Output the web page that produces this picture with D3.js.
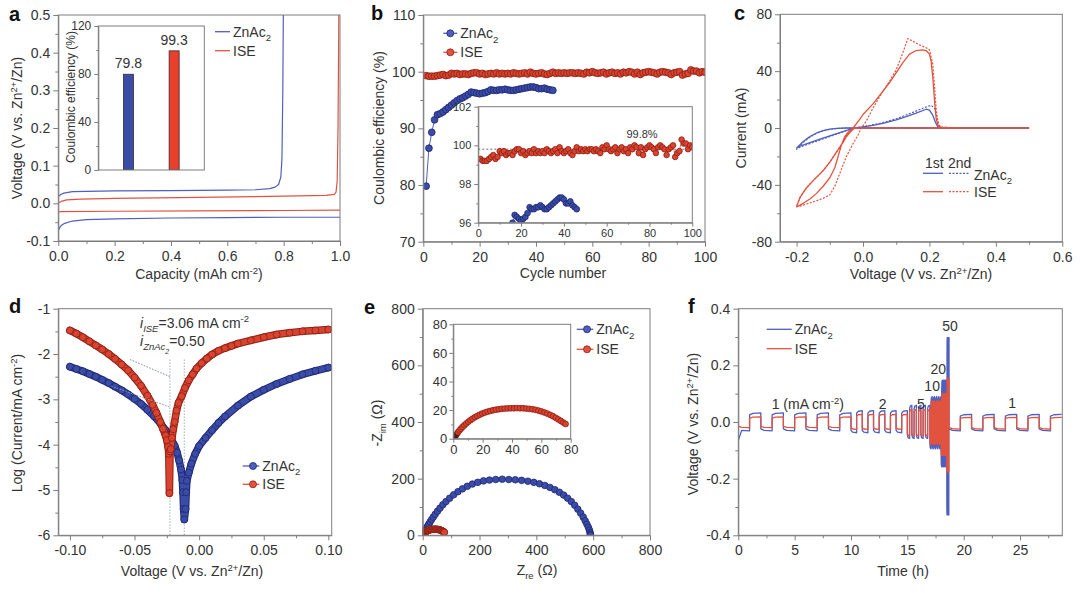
<!DOCTYPE html>
<html><head><meta charset="utf-8">
<script src="https://cdn.jsdelivr.net/npm/d3@7"></script>
<style>body{margin:0;background:#fff}svg{display:block}</style>
</head><body><svg id="chart" width="1080" height="593"></svg>
<script>
// ================= DATA =================
// (a) voltage profiles [capacity, voltage]
const aZnStrip = [[0,0.018],[0.01,0.024],[0.02,0.027],[0.05,0.031],[0.1,0.032],[0.2,0.033],[0.4,0.034],[0.6,0.035],[0.7,0.036],[0.75,0.039],[0.77,0.043],[0.782,0.05],[0.79,0.07],[0.794,0.12],[0.797,0.3],[0.799,0.52]];
const aZnPlate = [[0,-0.072],[0.005,-0.064],[0.01,-0.059],[0.02,-0.054],[0.05,-0.047],[0.1,-0.043],[0.2,-0.041],[0.4,-0.039],[0.6,-0.038],[0.8,-0.037],[1.0,-0.037]];
const aIseStrip = [[0,0.001],[0.01,0.005],[0.03,0.009],[0.08,0.011],[0.2,0.013],[0.5,0.016],[0.8,0.019],[0.95,0.021],[0.98,0.024],[0.986,0.03],[0.99,0.06],[0.993,0.2],[0.996,0.52]];
const aIsePlate = [[0,-0.023],[0.01,-0.022],[0.2,-0.021],[0.5,-0.020],[0.8,-0.019],[1.0,-0.018]];
const aCats = ["ZnAc2","ISE"];
const aCE = [79.8, 99.3];
const aCELabels = ["79.8","99.3"];

// (b) coulombic efficiency vs cycle
const bZnCE = [79.8,86.5,89.3,91.5,92.4,92.6,92.9,93.3,93.7,94.1,94.5,94.9,95.2,95.4,95.7,96.0,96.4,96.3,96.2,96.1,96.2,96.3,96.5,96.8,96.7,96.7,96.8,96.8,96.9,96.8,96.7,96.7,96.8,96.9,97.0,97.1,97.2,97.3,97.3,97.2,97.0,97.0,97.1,96.9,96.8,96.7];
const bIseCE = [99.3,99.2,99.2,99.2,99.3,99.4,99.5,99.3,99.4,99.7,
  99.6,99.7,99.5,99.6,99.6,99.5,99.7,99.8,99.8,99.6,
  99.7,99.5,99.6,99.7,99.6,99.8,99.6,99.7,99.6,99.7,
  99.6,99.8,99.7,99.6,99.7,99.8,99.6,99.9,99.7,99.6,
  99.7,99.8,99.6,99.5,99.7,99.9,99.7,99.8,99.7,99.8,
  99.7,99.8,99.8,99.7,99.8,99.7,99.6,99.9,99.8,100.0,
  99.8,99.7,99.8,99.9,99.6,99.8,99.9,99.7,99.8,99.6,
  99.9,99.8,100.0,99.9,99.6,99.9,99.5,99.8,99.9,100.0,
  99.9,99.8,99.6,99.9,100.0,99.9,99.8,99.5,99.8,99.9,
  100.0,99.4,99.6,99.7,100.3,100.1,100.1,99.8,100.0,99.9];
const bAvgCE = 99.8;

// (c) cyclic voltammetry [voltage, current]
const cZn1 = [[0.5,0],[0.3,0],[0.1,0],[0.0,0],[-0.05,0],[-0.08,-0.3],[-0.1,-0.8],[-0.12,-1.8],[-0.14,-3.5],[-0.16,-6],[-0.18,-9.5],[-0.2,-14],[-0.19,-12.8],[-0.16,-10.3],[-0.13,-7.9],[-0.1,-5.6],[-0.07,-3.3],[-0.04,-1],[-0.02,0.3],[0.0,0.8],[0.03,1.8],[0.06,3.2],[0.1,5.8],[0.13,8],[0.16,10.5],[0.19,13.2],[0.2,12.6],[0.21,9],[0.218,4],[0.225,1],[0.235,0.3],[0.3,0],[0.5,0]];
const cZn2 = [[0.5,0],[0.0,0],[-0.05,0],[-0.08,-0.4],[-0.1,-1],[-0.12,-2],[-0.14,-3.8],[-0.16,-6.5],[-0.18,-10],[-0.2,-15],[-0.19,-13.5],[-0.16,-11],[-0.13,-8.5],[-0.1,-6],[-0.07,-3.5],[-0.04,-1],[-0.02,0.3],[0.0,0.9],[0.05,3.2],[0.1,6.5],[0.15,11],[0.19,14.8],[0.205,16],[0.215,14],[0.222,8],[0.228,2],[0.235,0.5],[0.3,0],[0.5,0]];
const cIse1 = [[0.5,0],[0.3,0],[0.1,0],[0.0,0],[-0.025,0],[-0.035,-2],[-0.05,-6],[-0.06,-10],[-0.08,-17],[-0.1,-24],[-0.12,-30],[-0.15,-37],[-0.17,-42],[-0.19,-49],[-0.2,-55],[-0.195,-55],[-0.18,-53],[-0.16,-50],[-0.14,-46],[-0.12,-41],[-0.1,-35],[-0.085,-28],[-0.075,-20],[-0.065,-12],[-0.055,-6],[-0.045,-3],[-0.03,0],[-0.01,6],[0.0,9.5],[0.03,17],[0.06,26],[0.08,32],[0.1,39],[0.12,46],[0.14,52],[0.16,54.5],[0.18,55],[0.19,54.5],[0.2,52],[0.205,47],[0.21,36],[0.215,20],[0.22,7],[0.225,2],[0.235,0.5],[0.3,0],[0.5,0]];
const cIse2 = [[0.5,0],[0.0,0],[-0.02,0],[-0.03,-0.5],[-0.04,-3],[-0.05,-6],[-0.06,-10],[-0.08,-17],[-0.1,-24],[-0.12,-30],[-0.15,-37],[-0.17,-42],[-0.19,-49],[-0.2,-55.5],[-0.19,-55],[-0.17,-53.5],[-0.15,-52],[-0.12,-49.5],[-0.1,-47],[-0.085,-41],[-0.07,-32],[-0.05,-20],[-0.03,-11],[-0.015,-5],[-0.005,0],[0.01,5],[0.03,14],[0.05,22],[0.08,33],[0.1,41],[0.12,53],[0.135,63],[0.15,61],[0.17,58.5],[0.19,56.5],[0.2,55],[0.21,45],[0.215,30],[0.22,14],[0.225,5],[0.23,1.5],[0.24,0.5],[0.3,0],[0.5,0]];

// (d) Tafel plots [voltage, log current]
const dZn = [[-0.1,-2.28],[-0.095,-2.33],[-0.09,-2.38],[-0.085,-2.44],[-0.08,-2.5],[-0.075,-2.57],[-0.07,-2.64],[-0.065,-2.72],[-0.06,-2.8],[-0.055,-2.89],[-0.05,-2.99],[-0.045,-3.1],[-0.04,-3.23],[-0.035,-3.37],[-0.03,-3.53],[-0.026,-3.68],[-0.022,-3.85],[-0.019,-4.02],[-0.017,-4.18],[-0.0155,-4.35],[-0.014,-4.55],[-0.013,-4.78],[-0.0125,-5.05],[-0.012,-5.42],[-0.0115,-5.65],[-0.0105,-5.42],[-0.01,-5.05],[-0.0095,-4.8],[-0.008,-4.62],[-0.006,-4.42],[-0.003,-4.2],[0.0,-4.03],[0.005,-3.85],[0.01,-3.68],[0.015,-3.52],[0.02,-3.38],[0.03,-3.14],[0.04,-2.94],[0.05,-2.79],[0.06,-2.66],[0.07,-2.55],[0.08,-2.45],[0.09,-2.37],[0.1,-2.3]];
const dIse = [[-0.1,-1.48],[-0.095,-1.55],[-0.09,-1.63],[-0.085,-1.72],[-0.08,-1.81],[-0.075,-1.9],[-0.07,-2.0],[-0.065,-2.11],[-0.06,-2.23],[-0.055,-2.36],[-0.05,-2.52],[-0.045,-2.7],[-0.04,-2.92],[-0.036,-3.12],[-0.033,-3.3],[-0.03,-3.5],[-0.028,-3.65],[-0.026,-3.8],[-0.025,-3.9],[-0.024,-4.05],[-0.0235,-4.2],[-0.023,-5.07],[-0.0225,-4.15],[-0.022,-4.1],[-0.021,-3.85],[-0.02,-3.66],[-0.019,-3.5],[-0.0175,-3.25],[-0.016,-3.08],[-0.0135,-2.93],[-0.011,-2.75],[-0.008,-2.58],[-0.005,-2.45],[-0.002,-2.32],[0.002,-2.2],[0.006,-2.1],[0.01,-2.01],[0.015,-1.93],[0.02,-1.87],[0.025,-1.82],[0.03,-1.77],[0.04,-1.7],[0.05,-1.63],[0.06,-1.57],[0.07,-1.53],[0.08,-1.5],[0.09,-1.48],[0.1,-1.46]];
const dTangentIse = [[-0.0535,-2.12],[-0.0226,-2.5]];
const dTangentZn = [[-0.068,-2.71],[-0.0226,-3.17]];
const dEcorr = [-0.0226, -0.0115];
const dEcorrTop = -2.12;

// (e) Nyquist [Zre, -Zim]
const eZn = [[2,1],[3,4],[5,8],[7,13],[10,19],[13,25],[17,32],[21,39],[26,47],[31,55],[37,64],[44,74],[52,85],[61,96],[71,108],[82,119],[95,131],[109,143],[124,154],[140,164],[157,173],[175,181],[194,187],[214,192],[235,195],[257,197],[280,198],[303,197],[326,196],[348,194],[370,191],[391,187],[411,182],[430,176],[448,169],[465,161],[481,152],[496,142],[510,131],[523,119],[535,106],[546,92],[556,78],[565,64],[572,51],[578,39],[583,28],[587,18],[589,10],[590,4],[591,1]];
const eIse = [[0.8,0.6],[1.5,1.9],[2.3,3.2],[3.2,4.5],[4.2,5.8],[5.2,7.0],[6.3,8.2],[7.5,9.4],[8.8,10.6],[10.2,11.8],[11.6,12.9],[13.1,14.0],[14.7,15.0],[16.3,15.9],[18.0,16.8],[19.7,17.6],[21.5,18.3],[23.3,18.9],[25.2,19.4],[27.1,19.9],[29.0,20.3],[31.0,20.6],[33.0,20.9],[35.0,21.1],[37.1,21.2],[39.2,21.3],[41.3,21.3],[43.4,21.4],[45.5,21.3],[47.6,21.3],[49.7,21.1],[51.8,20.9],[53.9,20.6],[56.0,20.2],[58.0,19.7],[60.0,19.1],[62.0,18.4],[64.0,17.6],[66.0,16.7],[67.9,15.7],[69.8,14.6],[71.6,13.5],[73.3,12.4],[75.0,11.3],[76.5,10.3]];

// (f) rate performance: blocks of 5 plating/stripping cycles
const fRates = ["1","2","5","10","20","50","1"];
const fBlockStart = [0,10,15,17,18,18.5,18.7];
const fBlockEnd = [10,15,17,18,18.5,18.7,28.7];
const fCycles = [5,5,5,5,5,5,5];
const fZnHigh = [0.032,0.040,0.059,0.090,0.148,0.298,0.027];
const fZnLow = [-0.031,-0.038,-0.058,-0.095,-0.158,-0.328,-0.031];
const fIseHigh = [0.018,0.027,0.044,0.075,0.100,0.154,0.016];
const fIseLow = [-0.020,-0.026,-0.049,-0.080,-0.118,-0.176,-0.025];
const fZnFirst = -0.065;
const fLabels = [{t:"1 (mA cm^{-2})", x:2.96, y:0.045, a:"start"},{t:"2", x:12.8, y:0.045},{t:"5", x:16.2, y:0.047},{t:"10", x:17.2, y:0.109},{t:"20", x:17.75, y:0.168},{t:"50", x:18.78, y:0.321},{t:"1", x:24.3, y:0.05}];

// ================= STYLE / HELPERS =================
const FONT = "'Liberation Sans', Arial, Helvetica, sans-serif";
const AX = '#7d7d7d', TXT = '#333';
const BLUE = '#3b4ca8', BLUE_E = '#1d2870', RED = '#d9432f', RED_E = '#8c1f13';
const BLUE_L = '#4f5fbd', RED_L = '#e2533f';

const svg = d3.select('#chart');
svg.append('rect').attr('width',1080).attr('height',593).attr('fill','#fff');
let clipN = 0;
function fmt(spec){ const f = d3.format(spec); return d => f(d).replace('\u2212','-'); }

function parseRich(str){
  const segs = [];
  str.split(/(\^\{[^}]*\}|_\{[^}]*\})/).forEach(p => {
    if (!p) return;
    if (p.startsWith('^{')) segs.push({t:p.slice(2,-1), s:'sup'});
    else if (p.startsWith('_{')) segs.push({t:p.slice(2,-1), s:'sub'});
    else segs.push({t:p});
  });
  return segs;
}
function rich(sel, segs, fs){
  if (typeof segs === 'string') segs = parseRich(segs);
  let shift = 0;
  segs.forEach(sg => {
    const target = sg.s === 'sup' ? -0.38*fs : sg.s === 'sub' ? 0.3*fs : sg.s === 'sub2' ? 0.55*fs : 0;
    const size = sg.s === 'sub2' ? fs*0.5 : sg.s ? fs*0.68 : fs;
    const ts = sel.append('tspan').attr('dy', target - shift).attr('font-size', size).text(sg.t);
    if (sg.it) ts.attr('font-style','italic');
    shift = target;
  });
  return sel;
}
function label(x, y, str, fs, anchor, rot){
  const t = svg.append('text').attr('x', x).attr('y', y).attr('font-family', FONT).attr('font-size', fs)
    .attr('fill', TXT).attr('text-anchor', anchor || 'middle');
  if (rot) t.attr('transform', `rotate(${rot},${x},${y})`);
  rich(t, str, fs);
  return t;
}

function panel(box, o){
  const x = d3.scaleLinear().domain(o.xd).range([box.l, box.r]);
  const y = d3.scaleLinear().domain(o.yd).range([box.b, box.t]);
  const root = svg.append('g');
  if (o.bg) root.append('rect').attr('x',box.l).attr('y',box.t).attr('width',box.r-box.l).attr('height',box.b-box.t).attr('fill','#fff');
  const id = 'clip' + (clipN++);
  root.append('clipPath').attr('id', id).append('rect').attr('x',box.l).attr('y',box.t).attr('width',box.r-box.l).attr('height',box.b-box.t);
  const plot = root.append('g').attr('clip-path', `url(#${id})`);
  const axes = root.append('g');
  const fs = o.fs || 14, tl = o.tick || 5, ml = o.minor || 3;
  const style = s => {
    s.attr('font-size', fs).attr('font-family', FONT);
    s.selectAll('.domain').attr('stroke', AX);
    s.selectAll('.tick line').attr('stroke', AX);
    s.selectAll('.tick text').attr('fill', TXT);
  };
  if (o.xt){
    axes.append('g').attr('transform',`translate(0,${box.b})`)
      .call(d3.axisBottom(x).tickValues(o.xt).tickSize(tl).tickPadding(o.xpad ?? 5).tickSizeOuter(0).tickFormat(o.xf)).call(style);
    if (o.xm) axes.append('g').attr('transform',`translate(0,${box.b})`)
      .call(d3.axisBottom(x).tickValues(o.xm).tickSize(ml).tickFormat('')).call(style).select('.domain').remove();
  }
  if (o.yt){
    axes.append('g').attr('transform',`translate(${box.l},0)`)
      .call(d3.axisLeft(y).tickValues(o.yt).tickSize(tl).tickPadding(o.ypad ?? 3).tickSizeOuter(0).tickFormat(o.yf)).call(style);
    if (o.ym) axes.append('g').attr('transform',`translate(${box.l},0)`)
      .call(d3.axisLeft(y).tickValues(o.ym).tickSize(ml).tickFormat('')).call(style).select('.domain').remove();
  }
  axes.append('rect').attr('x',box.l).attr('y',box.t).attr('width',box.r-box.l).attr('height',box.b-box.t)
    .attr('fill','none').attr('stroke',AX).attr('stroke-width',1);
  return {x, y, plot, axes, root};
}
function drawLine(p, data, color, w, dash){
  const l = d3.line().x(d => p.x(d[0])).y(d => p.y(d[1]));
  const path = p.plot.append('path').datum(data).attr('d', l).attr('fill','none').attr('stroke', color)
    .attr('stroke-width', w).attr('stroke-linejoin','round');
  if (dash) path.attr('stroke-dasharray', dash);
  return path;
}
function drawDots(p, data, fill, edge, r){
  return p.plot.append('g').selectAll('circle').data(data).join('circle')
    .attr('cx', d => p.x(d[0])).attr('cy', d => p.y(d[1])).attr('r', r)
    .attr('fill', fill).attr('stroke', edge).attr('stroke-width', 0.8);
}
function legendItem(x0, x1, y, text, color, edge, dotX, fs, dash, w){
  const l = svg.append('line').attr('x1',x0).attr('x2',x1).attr('y1',y).attr('y2',y).attr('stroke',color).attr('stroke-width', w || 1.3);
  if (dash) l.attr('stroke-dasharray', dash);
  if (dotX != null) svg.append('circle').attr('cx',dotX).attr('cy',y).attr('r',3.5).attr('fill',color).attr('stroke',edge).attr('stroke-width',0.8);
  if (text) label(x1 + 3, y + 5, text, fs || 14, 'start');
}
function panelLetter(x, y, t){
  svg.append('text').attr('x',x).attr('y',y).attr('font-family',FONT).attr('font-weight','bold').attr('font-size',20).attr('fill','#111').text(t);
}

// ================= PANEL A =================
const pa = panel({l:58.3, r:340, t:15, b:241}, {xd:[0,1], yd:[-0.1,0.5],
  xt:[0,0.2,0.4,0.6,0.8,1.0], xm:[0.1,0.3,0.5,0.7,0.9], yt:[-0.1,0,0.1,0.2,0.3,0.4,0.5], ym:[-0.05,0.05,0.15,0.25,0.35,0.45],
  xf:fmt('.1f'), yf:fmt('.1f')});
drawLine(pa, aZnPlate, BLUE_L, 1.2);
drawLine(pa, aZnStrip, BLUE_L, 1.2);
drawLine(pa, aIsePlate, RED_L, 1.2);
drawLine(pa, aIseStrip, RED_L, 1.2);
const iaBox = {l:98.3, r:204.3, t:26, b:170};
const ia = panel(iaBox, {xd:[0,1], yd:[0,120], yt:[0,40,80,120], ym:[20,60,100], yf:fmt('d'), fs:12, tick:4, minor:2, bg:true});
const aBand = d3.scalePoint().domain(aCats).range([iaBox.l, iaBox.r]).padding(0.66);
const aColors = [BLUE, '#e8402c'];
ia.plot.selectAll('rect.bar').data(aCE).join('rect').attr('class','bar')
  .attr('x', (d,i) => aBand(aCats[i]) - 5).attr('width', 10)
  .attr('y', d => ia.y(d)).attr('height', d => ia.y(0) - ia.y(d))
  .attr('fill', (d,i) => aColors[i]).attr('stroke', '#3a2a2a').attr('stroke-width', 0.8);
aCE.forEach((v,i) => label(aBand(aCats[i]), ia.y(v) - 6, aCELabels[i], 14, 'middle'));
label(75, 97, "Coulombic efficiency (%)", 12, 'middle', -90);
legendItem(215, 230, 31.7, "ZnAc_{2}", BLUE_L);
legendItem(215, 230, 50.7, "ISE", RED_L);
label(22, 128, "Voltage (V vs. Zn^{2+}/Zn)", 14, 'middle', -90);
label(199, 279, "Capacity (mAh cm^{-2})", 14, 'middle');
panelLetter(9, 21, 'a');

// ================= PANEL B =================
const pb = panel({l:423.3, r:705, t:15, b:241.7}, {xd:[0,100], yd:[70,110],
  xt:[0,20,40,60,80,100], xm:[10,30,50,70,90], yt:[70,80,90,100,110], ym:[75,85,95,105], xf:fmt('d'), yf:fmt('d')});
const bZn = bZnCE.map((v,i) => [i+1, v]);
const bIse = bIseCE.map((v,i) => [i+1, v]);
drawLine(pb, bIse, RED_L, 1);
drawDots(pb, bIse, RED, RED_E, 3.4);
drawLine(pb, bZn, BLUE_L, 1);
drawDots(pb, bZn, BLUE, BLUE_E, 3.4);
const ib = panel({l:478.3, r:692.3, t:106.7, b:222.7}, {xd:[0,100], yd:[96,102],
  xt:[0,20,40,60,80,100], xm:[10,30,50,70,90], yt:[96,98,100,102], ym:[97,99,101], xf:fmt('d'), yf:fmt('d'), fs:11, tick:4, minor:2, bg:true, xpad:3});
drawLine(ib, [[0,bAvgCE],[100,bAvgCE]], '#444', 0.8, '2,2');
drawLine(ib, bIse, RED_L, 0.8);
drawDots(ib, bIse, RED, RED_E, 2.8);
drawLine(ib, bZn, BLUE_L, 0.8);
drawDots(ib, bZn, BLUE, BLUE_E, 2.9);
label(ib.x(76.5), ib.y(100.38), "99.8%", 11, 'middle');
legendItem(443.3, 457.3, 33.3, "ZnAc_{2}", BLUE_L, BLUE_E, 450.3);
legendItem(443.3, 457.3, 52.3, "ISE", RED_L, RED_E, 450.3);
label(384, 128, "Coulombic efficiency (%)", 14, 'middle', -90);
label(563, 278, "Cycle number", 14, 'middle');
panelLetter(371, 20, 'b');

// ================= PANEL C =================
const pc = panel({l:780, r:1062.3, t:14.3, b:241.7}, {xd:[-0.25,0.6], yd:[-80,80],
  xt:[-0.2,0,0.2,0.4,0.6], xm:[-0.1,0.1,0.3,0.5], yt:[-80,-40,0,40,80], ym:[-60,-20,20,60], xf:fmt('.1f'), yf:fmt('d')});
drawLine(pc, cZn2, BLUE_L, 1.2, '2,1.5');
drawLine(pc, cIse2, RED_L, 1.2, '2,1.5');
drawLine(pc, cZn1, BLUE_L, 1.3);
drawLine(pc, cIse1, RED_L, 1.3);
label(925, 168.3, "1st", 14, 'start');
label(948, 168.3, "2nd", 14, 'start');
legendItem(923, 943, 173.3, null, BLUE_L);
legendItem(949, 970, 173.3, null, BLUE_L, null, null, 14, '2,1.5');
label(974, 180, "ZnAc_{2}", 14, 'start');
legendItem(923, 943, 191.7, null, RED_L);
legendItem(949, 970, 191.7, null, RED_L, null, null, 14, '2,1.5');
label(974, 196.5, "ISE", 14, 'start');
label(746, 128, "Current (mA)", 14, 'middle', -90);
label(921, 279, "Voltage (V vs. Zn^{2+}/Zn)", 14, 'middle');
panelLetter(734, 20, 'c');

// ================= PANEL D =================
const pd = panel({l:58.3, r:331.7, t:308.7, b:535.3}, {xd:[-0.109,0.1026], yd:[-6,-1],
  xt:[-0.1,-0.05,0,0.05,0.1], xm:[-0.075,-0.025,0.025,0.075], yt:[-6,-5,-4,-3,-2,-1], ym:[-5.5,-4.5,-3.5,-2.5,-1.5], xf:fmt('.2f'), yf:fmt('d')});
dEcorr.forEach(v => drawLine(pd, [[v,dEcorrTop],[v,-6]], '#8a9aa0', 0.8, '1.5,1.5'));
drawLine(pd, dTangentIse, '#8a9aa0', 0.8, '1.5,1.5');
drawLine(pd, dTangentZn, '#8a9aa0', 0.8, '1.5,1.5');
drawLine(pd, dZn, BLUE_E, 7.5).attr('stroke-linecap','round');
drawLine(pd, dZn, BLUE, 5.5).attr('stroke-linecap','round');
drawDots(pd, dZn, BLUE, BLUE_E, 3.5);
drawLine(pd, dIse, RED_E, 7.5).attr('stroke-linecap','round');
drawLine(pd, dIse, RED, 5.5).attr('stroke-linecap','round');
drawDots(pd, dIse, RED, RED_E, 3.5);
drawLine(pd, dTangentIse, '#9aa8ae', 0.8, '1.5,1.5');
drawLine(pd, dTangentZn, '#9aa8ae', 0.8, '1.5,1.5');
label(140, 327.7, [{t:"i",it:true},{t:"ISE",s:'sub',it:true},{t:"=3.06 mA cm"},{t:"-2",s:'sup'}], 14, 'start');
label(140, 346, [{t:"i",it:true},{t:"ZnAc",s:'sub',it:true},{t:"2",s:'sub2',it:true},{t:"=0.50"}], 14, 'start');
legendItem(242.7, 259.3, 466, "ZnAc_{2}", BLUE_L, BLUE_E, 253);
legendItem(242.7, 259.3, 484.3, "ISE", RED_L, RED_E, 253);
label(22, 423, "Log (Current/mA cm^{-2})", 14, 'middle', -90);
label(192, 576, "Voltage (V vs. Zn^{2+}/Zn)", 14, 'middle');
panelLetter(9, 313, 'd');

// ================= PANEL E =================
const pe = panel({l:422.7, r:650, t:308.7, b:535.3}, {xd:[0,800], yd:[0,800],
  xt:[0,200,400,600,800], xm:[100,300,500,700], yt:[0,200,400,600,800], ym:[100,300,500,700], xf:fmt('d'), yf:fmt('d')});
drawLine(pe, eZn, BLUE_L, 1);
drawDots(pe, eZn, BLUE, BLUE_E, 3.3);
drawLine(pe, eIse, RED_L, 1);
drawDots(pe, eIse, RED, RED_E, 3.3);
const ie = panel({l:453.3, r:570.7, t:324.3, b:438.7}, {xd:[0,80], yd:[0,80],
  xt:[0,20,40,60,80], xm:[10,30,50,70], yt:[0,20,40,60,80], ym:[10,30,50,70], xf:fmt('d'), yf:fmt('d'), fs:13, tick:4, minor:2, bg:true, xpad:2, ypad:2});
drawLine(ie, eIse, RED_L, 1);
drawDots(ie, eIse, RED, RED_E, 2.9).attr('fill', (d,i) => i < 3 ? '#2a1a1a' : RED);
legendItem(576.7, 593.3, 329.3, "ZnAc_{2}", BLUE_L, BLUE_E, 587);
legendItem(576.7, 593.3, 349.3, "ISE", RED_L, RED_E, 587);
label(382, 423, "-Z_{im} (Ω)", 14, 'middle', -90);
label(537, 575, "Z_{re} (Ω)", 14, 'middle');
panelLetter(364, 314, 'e');

// ================= PANEL F =================
const pf = panel({l:738.3, r:1062.3, t:308.7, b:535.3}, {xd:[0,28.75], yd:[-0.4,0.4],
  xt:[0,5,10,15,20,25], xm:[2.5,7.5,12.5,17.5,22.5,27.5], yt:[-0.4,-0.2,0,0.2,0.4], ym:[-0.3,-0.1,0.1,0.3], xf:fmt('d'), yf:fmt('.1f')});
function buildWave(highs, lows, first){
  const pts = [];
  fBlockStart.forEach((s, i) => {
    const n = fCycles[i]*2, half = (fBlockEnd[i] - s)/n;
    for (let k = 0; k < n; k++){
      const t0 = s + k*half, v = k % 2 === 0 ? lows[i] : highs[i];
      const v0 = (i === 0 && k === 0 && first != null) ? first : v*0.78;
      pts.push([t0, v0], [t0 + half*0.3, v*0.95], [t0 + half, v]);
    }
  });
  return pts;
}
drawLine(pf, buildWave(fZnHigh, fZnLow, fZnFirst), BLUE_L, 1.3);
drawLine(pf, buildWave(fIseHigh, fIseLow, null), RED_L, 1.3);
fLabels.forEach(d => label(pf.x(d.x), pf.y(d.y), d.t, 14, d.a || 'middle'));
legendItem(766.7, 791.7, 329.3, "ZnAc_{2}", BLUE_L);
legendItem(766.7, 791.7, 348.7, "ISE", RED_L);
label(698, 424, "Voltage (V vs. Zn^{2+}/Zn)", 14, 'middle', -90);
label(903, 576, "Time (h)", 14, 'middle');
panelLetter(688, 313, 'f');
</script></body></html>
